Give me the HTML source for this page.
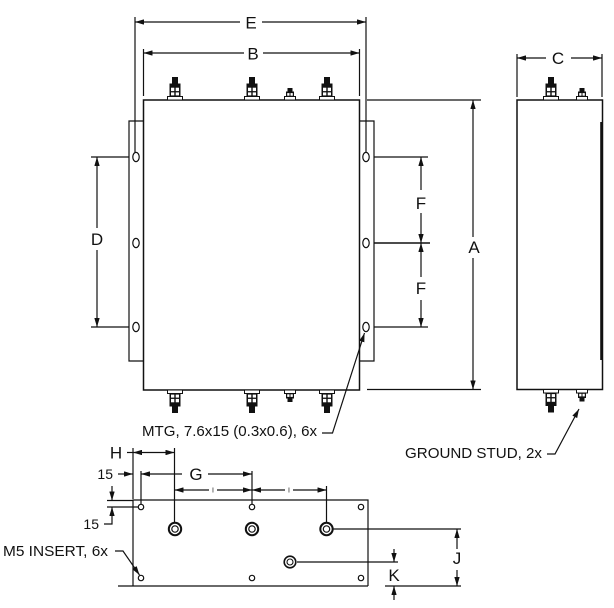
<!DOCTYPE html>
<html>
<head>
<meta charset="utf-8">
<style>
  html,body{margin:0;padding:0;background:#fff;}
  svg{display:block;}
  text{font-family:"Liberation Sans",Arial,sans-serif;fill:#111;}
</style>
</head>
<body>
<svg width="614" height="608" viewBox="0 0 614 608" xmlns="http://www.w3.org/2000/svg">
<defs>
  <marker id="a" viewBox="0 0 10 6" refX="10" refY="3" markerWidth="9" markerHeight="5.4" markerUnits="userSpaceOnUse" orient="auto">
    <path d="M0,0 L10,3 L0,6 z" fill="#111"/>
  </marker>
  <g id="big">
    <rect x="-7.5" y="-3.5" width="15" height="3.5" fill="#fff" stroke="#111" stroke-width="1"/>
    <rect x="-5.5" y="-16.5" width="11" height="13" fill="#111"/>
    <rect x="-4" y="-12.3" width="3.3" height="3.4" fill="#fff"/>
    <rect x="0.7" y="-12.3" width="3.3" height="3.4" fill="#fff"/>
    <rect x="-4" y="-7.6" width="3.3" height="3" fill="#fff"/>
    <rect x="0.7" y="-7.6" width="3.3" height="3" fill="#fff"/>
    <rect x="-3" y="-23" width="6" height="6.6" fill="#111"/>
  </g>
  <g id="small">
    <rect x="-5.5" y="-3.5" width="11" height="3.5" fill="#fff" stroke="#111" stroke-width="1"/>
    <rect x="-4" y="-8.5" width="8" height="5" fill="#111"/>
    <rect x="-2.8" y="-6.9" width="2.3" height="2.6" fill="#fff"/>
    <rect x="0.5" y="-6.9" width="2.3" height="2.6" fill="#fff"/>
    <rect x="-2.5" y="-12" width="5" height="3.6" fill="#111"/>
  </g>
</defs>

<g stroke="#111" stroke-width="1.2" fill="none">
  <!-- FRONT VIEW -->
  <rect x="143.5" y="100" width="216" height="290" stroke-width="1.5"/>
  <path d="M144,121 H129 V361 H144"/>
  <path d="M359,121 H374 V361 H359"/>
  <ellipse cx="136" cy="157" rx="3.2" ry="4.6"/>
  <ellipse cx="136" cy="243" rx="3.2" ry="4.6"/>
  <ellipse cx="136" cy="327" rx="3.2" ry="4.6"/>
  <ellipse cx="366" cy="157" rx="3.2" ry="4.6"/>
  <ellipse cx="366" cy="243" rx="3.2" ry="4.6"/>
  <ellipse cx="366" cy="327" rx="3.2" ry="4.6"/>

  <!-- E -->
  <line x1="135" y1="17" x2="135" y2="152"/>
  <line x1="366" y1="17" x2="366" y2="152"/>
  <line x1="240" y1="22" x2="135" y2="22" marker-end="url(#a)"/>
  <line x1="262" y1="22" x2="366" y2="22" marker-end="url(#a)"/>
  <!-- B -->
  <line x1="143.5" y1="49" x2="143.5" y2="96"/>
  <line x1="359.5" y1="49" x2="359.5" y2="96"/>
  <line x1="244" y1="53" x2="143.5" y2="53" marker-end="url(#a)"/>
  <line x1="263" y1="53" x2="359.5" y2="53" marker-end="url(#a)"/>
  <!-- A -->
  <line x1="367" y1="100" x2="481" y2="100"/>
  <line x1="367" y1="389.5" x2="481" y2="389.5"/>
  <line x1="473" y1="237" x2="473" y2="100" marker-end="url(#a)"/>
  <line x1="473" y1="258" x2="473" y2="389.5" marker-end="url(#a)"/>
  <!-- F -->
  <line x1="374" y1="157" x2="428" y2="157"/>
  <line x1="374" y1="243" x2="430" y2="243" stroke-width="1.6"/>
  <line x1="374" y1="327" x2="428" y2="327"/>
  <line x1="421" y1="190" x2="421" y2="157" marker-end="url(#a)"/>
  <line x1="421" y1="213" x2="421" y2="243" marker-end="url(#a)"/>
  <line x1="421" y1="277" x2="421" y2="243" marker-end="url(#a)"/>
  <line x1="421" y1="300" x2="421" y2="327" marker-end="url(#a)"/>
  <!-- D -->
  <line x1="91" y1="157" x2="129" y2="157"/>
  <line x1="91" y1="327" x2="129" y2="327"/>
  <line x1="97" y1="228" x2="97" y2="157" marker-end="url(#a)"/>
  <line x1="97" y1="250" x2="97" y2="327" marker-end="url(#a)"/>
  <!-- MTG leader -->
  <polyline points="322,433 332.5,433 364.5,333" marker-end="url(#a)"/>

  <!-- SIDE VIEW -->
  <rect x="517" y="100" width="85.5" height="289.5" stroke-width="1.5"/>
  <line x1="601.5" y1="122" x2="601.5" y2="360" stroke-width="2.6"/>
  <line x1="517" y1="54" x2="517" y2="97"/>
  <line x1="602" y1="54" x2="602" y2="97"/>
  <line x1="546" y1="58" x2="517" y2="58" marker-end="url(#a)"/>
  <line x1="571" y1="58" x2="602" y2="58" marker-end="url(#a)"/>
  <polyline points="547,454 555,454 579,409" marker-end="url(#a)"/>

  <!-- BOTTOM VIEW -->
  <path d="M133,586 V500 H368 V586"/>
  <line x1="118" y1="586" x2="368" y2="586"/>
  <circle cx="141" cy="507" r="2.7"/>
  <circle cx="141" cy="578" r="2.7"/>
  <circle cx="252" cy="507" r="2.7"/>
  <circle cx="252" cy="578" r="2.7"/>
  <circle cx="361" cy="507" r="2.7"/>
  <circle cx="361" cy="578" r="2.7"/>
  <circle cx="175" cy="529" r="6.2" stroke-width="2"/>
  <circle cx="175" cy="529" r="3.2" stroke-width="1.2"/>
  <circle cx="252" cy="529" r="6.2" stroke-width="2"/>
  <circle cx="252" cy="529" r="3.2" stroke-width="1.2"/>
  <circle cx="326.5" cy="529" r="6.2" stroke-width="2"/>
  <circle cx="326.5" cy="529" r="3.2" stroke-width="1.2"/>
  <circle cx="290" cy="562" r="5.8" stroke-width="1.6"/>
  <circle cx="290" cy="562" r="3" stroke-width="1.1"/>

  <!-- H -->
  <line x1="133" y1="448" x2="133" y2="499"/>
  <line x1="174.5" y1="448" x2="174.5" y2="522"/>
  <line x1="127" y1="452.5" x2="133" y2="452.5"/>
  <line x1="150" y1="452.5" x2="133" y2="452.5" marker-end="url(#a)"/>
  <line x1="150" y1="452.5" x2="174.5" y2="452.5" marker-end="url(#a)"/>
  <!-- 15 horizontal + G -->
  <line x1="118" y1="474" x2="133" y2="474" marker-end="url(#a)"/>
  <line x1="141" y1="471" x2="141" y2="504"/>
  <line x1="182" y1="474" x2="141" y2="474" marker-end="url(#a)"/>
  <line x1="208" y1="474" x2="252" y2="474" marker-end="url(#a)"/>
  <line x1="252" y1="471" x2="252" y2="504"/>
  <!-- I dims -->
  <line x1="326.5" y1="486" x2="326.5" y2="522"/>
  <line x1="209" y1="490" x2="174.5" y2="490" marker-end="url(#a)"/>
  <line x1="217" y1="490" x2="252" y2="490" marker-end="url(#a)"/>
  <line x1="285" y1="490" x2="252" y2="490" marker-end="url(#a)"/>
  <line x1="293" y1="490" x2="326.5" y2="490" marker-end="url(#a)"/>
  <!-- 15 vertical -->
  <line x1="107" y1="500.5" x2="133" y2="500.5"/>
  <line x1="107" y1="507" x2="138" y2="507"/>
  <line x1="112" y1="486" x2="112" y2="500.5" marker-end="url(#a)"/>
  <polyline points="104,524 112,524 112,507" marker-end="url(#a)"/>
  <!-- M5 leader -->
  <polyline points="115,551 123,551 139.5,575" marker-end="url(#a)"/>
  <!-- J -->
  <line x1="333" y1="529" x2="461" y2="529"/>
  <line x1="385" y1="586" x2="461" y2="586"/>
  <line x1="457" y1="549" x2="457" y2="529" marker-end="url(#a)"/>
  <line x1="457" y1="570" x2="457" y2="586" marker-end="url(#a)"/>
  <!-- K -->
  <line x1="297" y1="562" x2="398" y2="562"/>
  <line x1="394" y1="549" x2="394" y2="562" marker-end="url(#a)"/>
  <line x1="394" y1="600" x2="394" y2="586" marker-end="url(#a)"/>
</g>

<!-- studs front view -->
<use href="#big" transform="translate(175,100)"/>
<use href="#big" transform="translate(252,100)"/>
<use href="#small" transform="translate(290,100)"/>
<use href="#big" transform="translate(327,100)"/>
<use href="#big" transform="translate(175,390) scale(1,-1)"/>
<use href="#big" transform="translate(252,390) scale(1,-1)"/>
<use href="#small" transform="translate(290,390) scale(1,-1)"/>
<use href="#big" transform="translate(327,390) scale(1,-1)"/>
<!-- studs side view -->
<use href="#big" transform="translate(551,100)"/>
<use href="#small" transform="translate(582,100)"/>
<use href="#big" transform="translate(551,389.5) scale(1,-1)"/>
<use href="#small" transform="translate(582,389.5) scale(1,-1)"/>

<!-- labels -->
<g font-size="17" text-anchor="middle">
  <text x="251" y="28.5">E</text>
  <text x="253" y="59.5">B</text>
  <text x="474" y="253">A</text>
  <text x="421" y="209">F</text>
  <text x="421" y="294">F</text>
  <text x="97" y="245">D</text>
  <text x="558" y="64">C</text>
  <text x="116" y="458.5">H</text>
  <text x="196" y="480">G</text>
  <text x="457" y="564">J</text>
  <text x="394" y="581">K</text>
</g>
<g font-size="7" text-anchor="middle">
  <text x="213" y="492.5">I</text>
  <text x="289" y="492.5">I</text>
</g>
<g font-size="14" text-anchor="end">
  <text x="113" y="479">15</text>
  <text x="99" y="529">15</text>
</g>
<g font-size="15" text-anchor="end">
  <text x="317" y="436" textLength="175" lengthAdjust="spacingAndGlyphs">MTG, 7.6x15 (0.3x0.6), 6x</text>
  <text x="542" y="458" textLength="137" lengthAdjust="spacingAndGlyphs">GROUND STUD, 2x</text>
  <text x="108" y="556" textLength="105" lengthAdjust="spacingAndGlyphs">M5 INSERT, 6x</text>
</g>
</svg>
</body>
</html>
